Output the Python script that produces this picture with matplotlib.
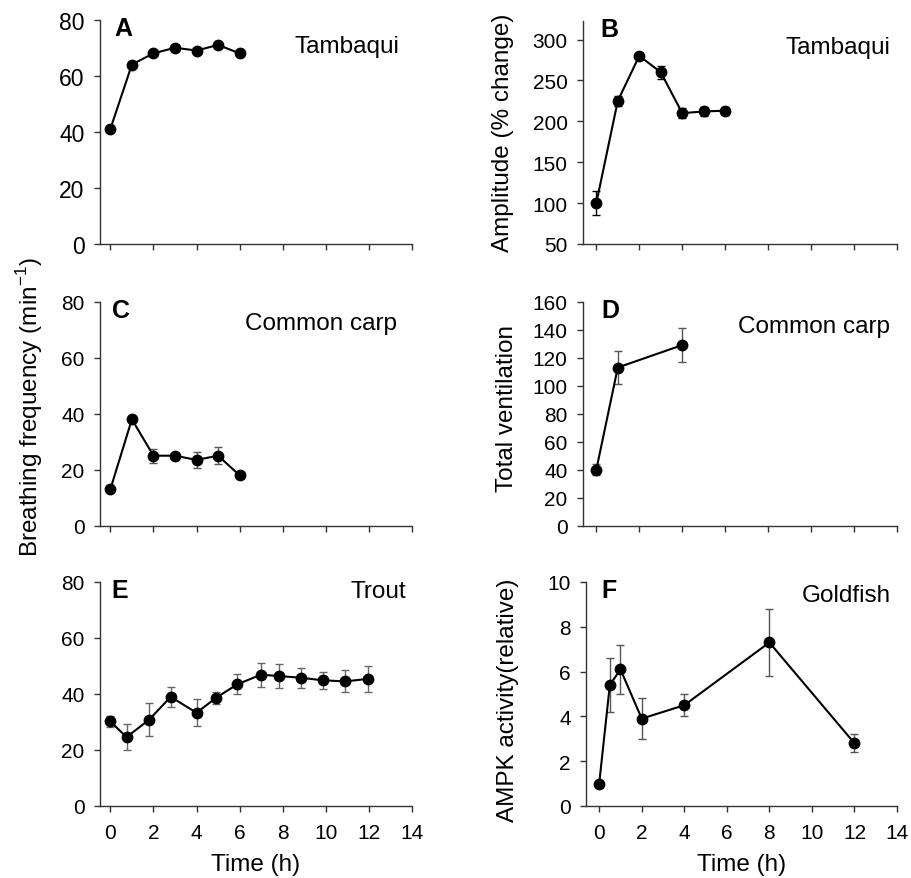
import numpy as np
import matplotlib
matplotlib.use('Agg')
import matplotlib.pyplot as plt

plt.rcParams['font.family'] = ['Liberation Sans', 'DejaVu Sans']
plt.rcParams['mathtext.fontset'] = 'custom'
plt.rcParams['mathtext.rm'] = 'Liberation Sans'

# A: tambaqui breathing frequency
a_t = [0, 1, 2, 3, 4, 5, 6]
a_y = [41, 64, 68, 70, 69, 71, 68]
a_err = [1.2, 1.0, 1.0, 1.0, 1.0, 1.0, 1.0]

# B: tambaqui amplitude
b_t = [0, 1, 2, 3, 4, 5, 6]
b_y = [100, 225, 280, 260, 210, 212, 213]
b_err = [15, 6, 4, 8, 6, 5, 5]

# C: common carp breathing frequency
c_t = [0, 1, 2, 3, 4, 5, 6]
c_y = [13, 38, 25, 25, 23.5, 25, 18]
c_err = [0.5, 0.5, 2.5, 0.5, 3.0, 3.0, 0.5]

# D: common carp total ventilation
d_t = [0, 1, 4]
d_y = [40, 113, 129]
d_err = [4, 12, 12]

# E: trout breathing frequency
e_t = [0, 0.75, 1.8, 2.8, 4, 4.9, 5.9, 7, 7.85, 8.85, 9.85, 10.9, 11.95]
e_y = [30.2, 24.6, 30.8, 39, 33.3, 38.6, 43.5, 46.9, 46.4, 45.8, 44.9, 44.5, 45.4]
e_err = [2.1, 4.6, 5.9, 3.5, 4.8, 2.2, 3.6, 4.3, 4.4, 3.6, 3.1, 3.9, 4.6]

# F: goldfish AMPK activity
f_t = [0, 0.5, 1, 2, 4, 8, 12]
f_y = [1.0, 5.4, 6.1, 3.9, 4.5, 7.3, 2.8]
f_err = [0.1, 1.2, 1.1, 0.9, 0.5, 1.5, 0.4]

fig = plt.figure(figsize=(9.11, 8.79), dpi=100)

W, H = 911.0, 879.0
def box(x0, x1, y0, y1):
    return [x0 / W, 1 - y1 / H, (x1 - x0) / W, (y1 - y0) / H]

panels = [
    # t, y, err, rect, ylim, yticks, letter, species, species pos, letter x, errcolor, tick size
    (a_t, a_y, a_err, box(100, 412, 20.7, 245), (0, 80), np.arange(0, 81, 20), 'A', 'Tambaqui', (0.958, 0.884), 0.045, 'black', 16.5),
    (b_t, b_y, b_err, box(583, 897, 21.7, 245), (50, 323), np.arange(50, 301, 50), 'B', 'Tambaqui', (0.98, 0.884), 0.054, 'black', 15),
    (c_t, c_y, c_err, box(100, 412, 302.7, 526.7), (0, 80), np.arange(0, 81, 20), 'C', 'Common carp', (0.952, 0.905), 0.04, '#555555', 15),
    (d_t, d_y, d_err, box(583, 897, 302.7, 526.7), (0, 160), np.arange(0, 161, 20), 'D', 'Common carp', (0.978, 0.893), 0.06, '#555555', 15),
    (e_t, e_y, e_err, box(100, 412, 583, 807), (0, 80), np.arange(0, 81, 20), 'E', 'Trout', (0.98, 0.958), 0.037, '#666666', 15),
    (f_t, f_y, f_err, box(586, 897, 583, 807), (0, 10), np.arange(0, 11, 2), 'F', 'Goldfish', (0.98, 0.943), 0.05, '#555555', 15),
]

axes = []
for i, (t, y, err, rect, ylim, yt, letter, species, spos, lx, ecol, tsize) in enumerate(panels):
    ax = fig.add_axes(rect)
    ax.errorbar(t, y, yerr=err, fmt='none', ecolor=ecol, elinewidth=1.0, capsize=3, capthick=1.0, zorder=2)
    ax.plot(t, y, color='black', lw=1.5, marker='o', markersize=7.5, zorder=3)
    left = -0.48 if i % 2 == 0 else -0.62
    ax.set_xlim(left, 14)
    ax.set_ylim(*ylim)
    ax.set_xticks(np.arange(0, 15, 2))
    ax.set_yticks(yt)
    for s in ['top', 'right']:
        ax.spines[s].set_visible(False)
    for s in ['left', 'bottom']:
        ax.spines[s].set_color('#333333')
        ax.spines[s].set_linewidth(1.0)
    ax.tick_params(axis='both', direction='out', length=4, width=1.0, color='#333333', labelsize=tsize, pad=7)
    if i < 4:
        ax.tick_params(axis='x', labelbottom=False)
    else:
        ax.tick_params(axis='x', pad=8)
        ax.set_xlabel('Time (h)', fontsize=17.5, labelpad=8)
    ax.text(lx, 1.016, letter, transform=ax.transAxes, fontsize=18, fontweight='bold', ha='left', va='top')
    ax.text(spos[0], spos[1], species, transform=ax.transAxes, fontsize=17.5, ha='right', va='center')
    axes.append(ax)

# y labels placed in figure pixels
fig.text(503 / W, 1 - 133 / H, 'Amplitude (% change)', rotation=90, fontsize=17.5, ha='center', va='center')
fig.text(507 / W, 1 - 409 / H, 'Total ventilation', rotation=90, fontsize=17.5, ha='center', va='center')
fig.text(508 / W, 1 - 700 / H, 'AMPK activity(relative)', rotation=90, fontsize=17.5, ha='center', va='center')
fig.text(30 / W, 1 - 407 / H, r'Breathing frequency (min$^{\mathregular{-1}}$)', rotation=90,
         fontsize=17.5, ha='center', va='center')

fig.savefig('out.png', dpi=100)
